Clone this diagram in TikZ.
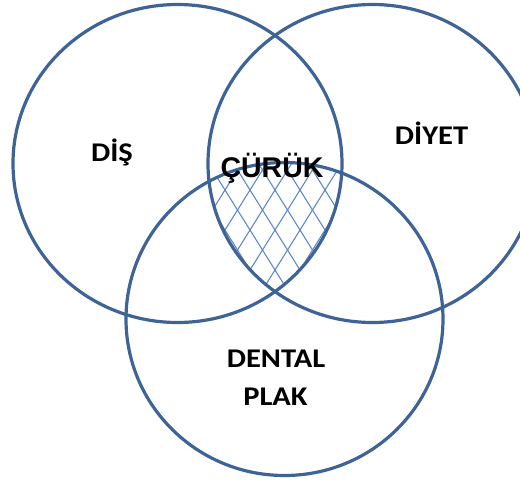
\documentclass[tikz,border=0pt]{standalone}
\usepackage{fontspec}
\setmainfont{Carlito}
\newfontfamily\arialfont{Liberation Sans}
\definecolor{ring}{RGB}{62,99,150}
\definecolor{hatch}{RGB}{92,136,200}
\begin{document}
\begin{tikzpicture}[x=1pt,y=-1pt,
  ring/.style={draw=ring, line width=3.2pt},
  hatchline/.style={draw=hatch, line width=1.1pt},
  lbl/.style={inner sep=0pt, anchor=base, text=black, font=\bfseries\fontsize{27}{30}\selectfont},
  mid/.style={inner sep=0pt, anchor=base, text=black, font=\arialfont\bfseries\fontsize{28.5}{32}\selectfont}]
\useasboundingbox (0,0) rectangle (520,483);
\clip (0,0) rectangle (520,483);
% cross-hatched triple intersection
\begin{scope}
  \clip (177.5,163.5) ellipse [x radius=164.5pt, y radius=159pt];
  \clip (372.5,163.5) ellipse [x radius=164.5pt, y radius=159pt];
  \clip (284.5,319) ellipse [x radius=158.5pt, y radius=156.5pt];
  \foreach \i in {-12,...,12} {
    \draw[hatchline] ({275+\i*25-0.53*200},{230-0.848*200}) -- ++({0.53*400},{0.848*400});
    \draw[hatchline] ({275+\i*25+0.53*200},{230-0.848*200}) -- ++({-0.53*400},{0.848*400});
  }
\end{scope}
% circles
\draw[ring] (177.5,163.5) ellipse [x radius=164.5pt, y radius=159pt];
\draw[ring] (372.5,163.5) ellipse [x radius=164.5pt, y radius=159pt];
\draw[ring] (284.5,319) ellipse [x radius=158.5pt, y radius=156.5pt];
% labels
\node[lbl] (dis) at (112,161.7) {\scalebox{1.13}[1]{DİŞ}};
\node[lbl] (diyet) at (431.5,144.3) {\scalebox{1.13}[1]{DİYET}};
\node[mid] (curuk) at (272,177.5) {ÇÜRÜK};
\node[lbl] (dental) at (276,367.7) {\scalebox{1.13}[1]{DENTAL}};
\node[lbl] (plak) at (275.5,405) {\scalebox{1.13}[1]{PLAK}};
\end{tikzpicture}
\end{document}
